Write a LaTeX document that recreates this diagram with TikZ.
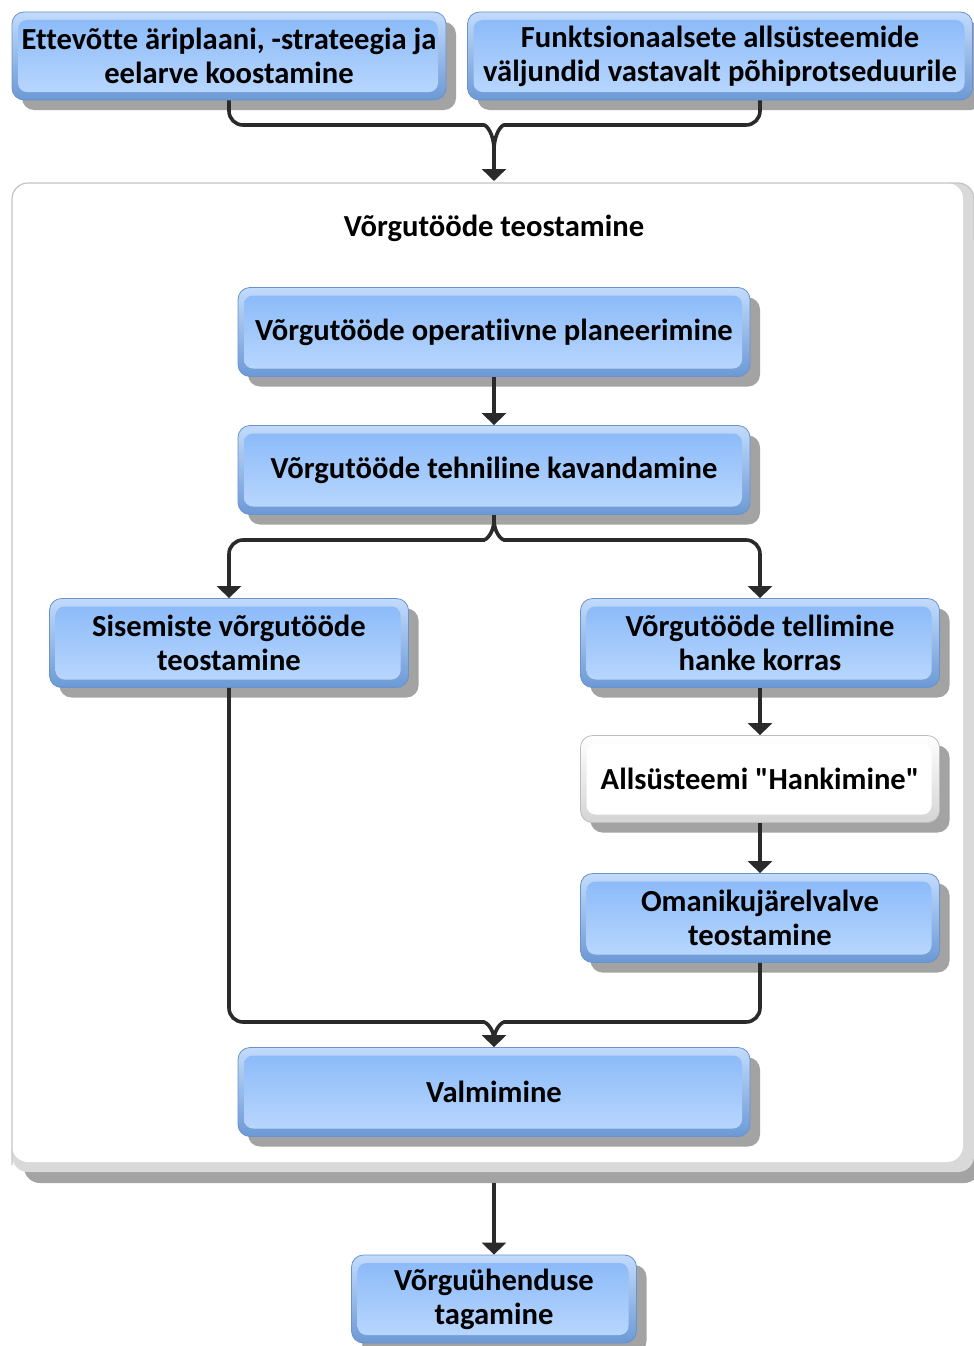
\documentclass[tikz,border=0pt]{standalone}
\usepackage{fontspec}
\setmainfont{Carlito}[Ligatures={NoCommon,TeXOff}]
\usetikzlibrary{shadows,arrows.meta}

\definecolor{edgeblue}{HTML}{6A92CC}
\definecolor{bevtop}{HTML}{C2DBFC}
\definecolor{bevbot}{HTML}{6C99D5}
\definecolor{facetop}{HTML}{88B8F8}
\definecolor{facebot}{HTML}{BCD9FE}
\definecolor{shadowgray}{HTML}{A3A3A3}
\definecolor{rimgray}{HTML}{D9D9D9}
\definecolor{framegray}{HTML}{C4C4C4}
\definecolor{linkgray}{HTML}{2A2A2A}
\definecolor{whiteedge}{HTML}{BDBDBD}
\definecolor{whitebev}{HTML}{D4D4D4}

\tikzset{
  label font/.style={font=\fontsize{30.6}{34}\selectfont\bfseries, text=black},
  boxbase/.style={rounded corners=12pt, line width=0.8pt, align=center,
    inner sep=0pt, label font,
    drop shadow={shadow xshift=10pt, shadow yshift=-10pt, fill=shadowgray, opacity=1}},
  bluebox/.style={boxbase, draw=edgeblue, top color=bevtop, bottom color=bevbot,
    path picture={\shade[top color=facetop, bottom color=facebot, rounded corners=9pt]
      ([xshift=6pt,yshift=8pt]path picture bounding box.south west) rectangle
      ([xshift=-8pt,yshift=-8pt]path picture bounding box.north east);}},
  whitebox/.style={boxbase, draw=whiteedge, top color=white, bottom color=whitebev,
    path picture={\fill[white, rounded corners=9pt]
      ([xshift=6pt,yshift=8pt]path picture bounding box.south west) rectangle
      ([xshift=-8pt,yshift=-8pt]path picture bounding box.north east);}},
  link/.style={draw=linkgray, line width=3.6pt, rounded corners=14pt},
  arrow/.style={link, -{Triangle[width=24pt,length=12pt]}},
}

\begin{document}
\begin{tikzpicture}[x=1pt,y=-1pt]
\useasboundingbox (0,0) rectangle (974,1346);

% enclosing process frame
\fill[shadowgray, rounded corners=16pt] (24,200) rectangle (980,1183);
\fill[rimgray, rounded corners=16pt] (12,183) rectangle (974,1172);
\fill[white, rounded corners=16pt] (12,183) rectangle (963,1162);
\draw[framegray, line width=1.2pt, rounded corners=16pt]
  (12,1165) -- (12,183) -- (974,183) -- (974,240);
\node[label font] (title) at (494,228) {Võrgutööde teostamine};

% inputs
\node[bluebox, minimum width=434pt, minimum height=88pt] (plan) at (229,56)
  {Ettevõtte äriplaani, -strateegia ja\\eelarve koostamine};
\node[bluebox, minimum width=505pt, minimum height=88pt] (func) at (720,56)
  {Funktsionaalsete allsüsteemide\\väljundid vastavalt põhiprotseduurile};

% process steps
\node[bluebox, minimum width=512pt, minimum height=89pt] (oper) at (494,332)
  {Võrgutööde operatiivne planeerimine};
\node[bluebox, minimum width=512pt, minimum height=89pt] (tech) at (494,470)
  {Võrgutööde tehniline kavandamine};
\node[bluebox, minimum width=359pt, minimum height=89pt] (inner) at (229,643)
  {Sisemiste võrgutööde\\teostamine};
\node[bluebox, minimum width=359pt, minimum height=89pt] (order) at (760,643)
  {Võrgutööde tellimine\\hanke korras};
\node[whitebox, minimum width=359pt, minimum height=87pt] (proc) at (760,779)
  {Allsüsteemi "Hankimine"};
\node[bluebox, minimum width=359pt, minimum height=89pt] (super) at (760,918)
  {Omanikujärelvalve\\teostamine};
\node[bluebox, minimum width=512pt, minimum height=89pt] (done) at (494,1092)
  {Valmimine};
\node[bluebox, minimum width=285pt, minimum height=88pt] (conn) at (494,1299)
  {Võrguühenduse\\tagamine};

% junction points
\coordinate (jtop) at (494,150);
\coordinate (jsplit) at (494,520);
\coordinate (jmerge) at (494,1040);
\coordinate (framebottom) at (494,1183);

% inputs merge into the frame
\draw[link] (plan.south) |- (470,125) .. controls (486,125) and (494,133) .. (jtop);
\draw[link] (func.south -| order.center) |- (518,125) .. controls (502,125) and (494,133) .. (jtop);
\draw[arrow, rounded corners=0pt] (jtop) -- (494,181);

\draw[arrow] (oper) -- (tech);

% branch after design
\draw[link, rounded corners=0pt] (tech.south) -- (jsplit);
\draw[arrow] (jsplit) .. controls (494,533) and (486,540) .. (470,540) -| (inner.north);
\draw[arrow] (jsplit) .. controls (494,533) and (502,540) .. (518,540) -| (order.north);

\draw[arrow] (order) -- (proc);
\draw[arrow] (proc) -- (super);

% join before completion
\draw[link] (inner.south) |- (470,1022) .. controls (486,1022) and (494,1029) .. (jmerge);
\draw[link] (super.south) |- (518,1022) .. controls (502,1022) and (494,1029) .. (jmerge);
\draw[arrow, rounded corners=0pt] (jmerge) -- (done.north);

\draw[arrow, rounded corners=0pt] (framebottom) -- (conn.north);
\end{tikzpicture}
\end{document}
